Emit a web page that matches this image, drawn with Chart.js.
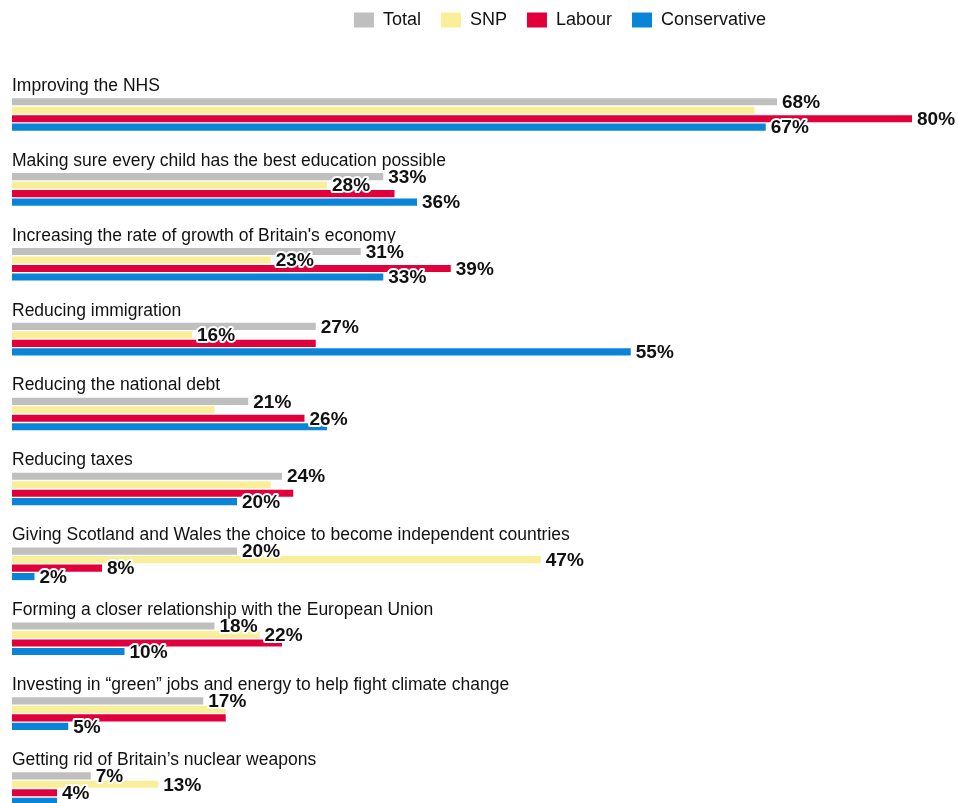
<!DOCTYPE html>
<html>
<head>
<meta charset="utf-8">
<script src="https://cdn.jsdelivr.net/npm/chart.js@4.4.1/dist/chart.umd.min.js"></script>
<style>
  html, body { margin: 0; padding: 0; background: #fff; overflow: hidden; }
  #wrap { position: relative; width: 958px; height: 826px; }
</style>
</head>
<body>
<div id="wrap"><canvas id="chart_root"></canvas></div>
<script>
const categories = [
  'Improving the NHS',
  'Making sure every child has the best education possible',
  "Increasing the rate of growth of Britain's economy",
  'Reducing immigration',
  'Reducing the national debt',
  'Reducing taxes',
  'Giving Scotland and Wales the choice to become independent countries',
  'Forming a closer relationship with the European Union',
  'Investing in \u201cgreen\u201d jobs and energy to help fight climate change',
  'Getting rid of Britain\u2019s nuclear weapons'
];
const total = [68, 33, 31, 27, 21, 24, 20, 18, 17, 7];
const snp = [66, 28, 23, 16, 18, 23, 47, 22, 19, 13];
const labour = [80, 34, 39, 27, 26, 25, 8, 24, 19, 4];
const conservative = [67, 36, 33, 55, 28, 20, 2, 10, 5, 4];

// 1 = the value is printed next to its bar in the original
const totalShown = [1, 1, 1, 1, 1, 1, 1, 1, 1, 1];
const snpShown = [0, 1, 1, 1, 0, 0, 1, 1, 0, 1];
const labourShown = [1, 0, 1, 0, 1, 0, 1, 0, 0, 1];
const conservativeShown = [1, 1, 1, 1, 0, 1, 1, 1, 1, 0];

const FONT = '"Liberation Sans", Arial, sans-serif';

// category names sit above each group of bars
const groupTitles = {
  id: 'groupTitles',
  afterDatasetsDraw(chart) {
    const { ctx, chartArea } = chart;
    const y = chart.scales.y;
    const half = (y.getPixelForValue(1) - y.getPixelForValue(0)) / 2;
    ctx.save();
    ctx.font = '17.5px ' + FONT;
    ctx.fillStyle = '#111';
    ctx.textBaseline = 'middle';
    categories.forEach((c, i) => {
      ctx.fillText(c, chartArea.left, y.getPixelForValue(i) - half + 9);
    });
    ctx.restore();
  }
};

const valueLabels = {
  id: 'valueLabels',
  afterDatasetsDraw(chart) {
    const { ctx } = chart;
    ctx.save();
    ctx.font = 'bold 19px ' + FONT;
    ctx.textBaseline = 'middle';
    ctx.lineJoin = 'round';
    chart.data.datasets.forEach((ds, di) => {
      chart.getDatasetMeta(di).data.forEach((bar, i) => {
        if (!ds.shown[i]) return;
        const text = ds.data[i] + '%';
        const x = bar.x + 5;
        const yy = bar.y + 1;
        ctx.strokeStyle = '#fff';
        ctx.lineWidth = 4;
        ctx.strokeText(text, x, yy);
        ctx.fillStyle = '#111';
        ctx.fillText(text, x, yy);
      });
    });
    ctx.restore();
  }
};

// the legend in the original is off-centre, to the right
const legendShift = {
  id: 'legendShift',
  afterLayout(chart) {
    const l = chart.legend;
    const dx = 560 - (l.left + l.right) / 2;
    l.left += dx;
    l.right += dx;
    l.top -= 9;
    l.bottom -= 9;
  }
};

const mkSet = (label, data, shown, color) => ({
  label, data, shown,
  backgroundColor: color,
  borderWidth: 0,
  categoryPercentage: 0.453,
  barPercentage: 0.84
});

new Chart(document.getElementById('chart_root'), {
  type: 'bar',
  data: {
    labels: categories,
    datasets: [
      mkSet('Total', total, totalShown, '#bfbfbf'),
      mkSet('SNP', snp, snpShown, '#f9ef98'),
      mkSet('Labour', labour, labourShown, '#e1003b'),
      mkSet('Conservative', conservative, conservativeShown, '#0a84d8')
    ]
  },
  options: {
    indexAxis: 'y',
    responsive: true,
    maintainAspectRatio: false,
    animation: false,
    layout: { padding: { left: 12, right: 1, top: 0, bottom: 0 } },
    scales: {
      x: {
        position: 'top',
        min: 0,
        max: 84,
        grid: { display: false },
        border: { display: false },
        ticks: { display: false },
        afterFit(s) { s.height = 29; }
      },
      y: { display: false }
    },
    plugins: {
      tooltip: { enabled: false },
      legend: {
        position: 'top',
        labels: {
          boxWidth: 20,
          boxHeight: 15,
          padding: 20,
          color: '#111',
          font: { family: FONT, size: 18 }
        }
      }
    }
  },
  plugins: [legendShift, groupTitles, valueLabels]
});
</script>
</body>
</html>
